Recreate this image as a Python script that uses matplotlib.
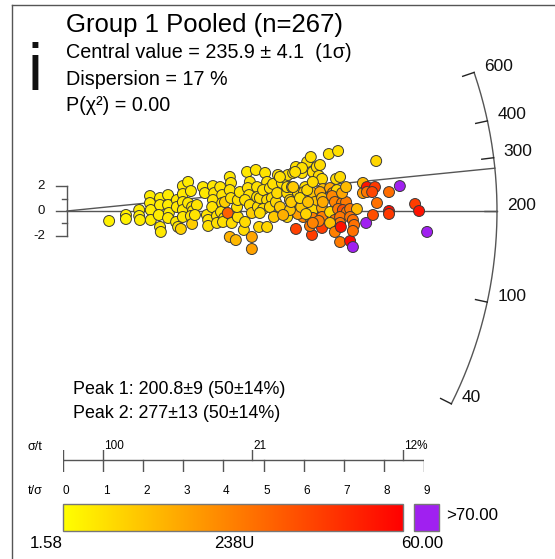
import numpy as np
import matplotlib
matplotlib.use('Agg')
import matplotlib.pyplot as plt
from matplotlib.colors import LinearSegmentedColormap, Normalize
from matplotlib.lines import Line2D
from matplotlib.patches import Rectangle
import matplotlib.colorbar as mcolorbar

plt.rcParams['font.family'] = ['Liberation Sans', 'DejaVu Sans']

# ---- data: radial plot coordinates (x = t/sigma, y = standardised estimate) and 238U
t_sigma = [1.05, 1.47, 1.47, 1.80, 1.80, 1.82, 2.07, 2.07, 2.09, 2.09,
           2.32, 2.32, 2.29, 2.32, 2.34, 2.52, 2.52, 2.54, 2.52, 2.74,
           2.74, 2.72, 2.77, 2.84, 2.89, 2.89, 2.89, 2.89, 2.89, 3.02,
           3.09, 3.02, 3.12, 3.14, 3.09, 3.12, 3.24, 3.19, 3.39, 3.44,
           3.49, 3.52, 3.52, 3.64, 3.67, 3.64, 3.62, 3.74, 3.74, 3.82,
           3.87, 3.87, 3.84, 3.92, 3.89, 3.94, 4.01, 4.06, 4.09, 4.06,
           4.09, 4.11, 4.06, 4.21, 4.26, 4.24, 4.26, 4.31, 4.41, 4.49,
           4.56, 4.51, 4.54, 4.44, 4.56, 4.61, 4.61, 4.61, 4.71, 4.74,
           4.74, 4.76, 4.81, 4.79, 4.94, 4.99, 4.89, 4.99, 4.99, 4.89,
           4.81, 5.06, 5.11, 5.06, 5.16, 5.14, 5.26, 5.21, 5.36, 5.24,
           5.31, 5.44, 5.49, 5.49, 5.56, 5.61, 5.49, 5.51, 5.61, 5.64,
           5.71, 5.76, 5.76, 5.74, 5.64, 5.86, 5.94, 5.91, 5.94, 5.89,
           5.99, 6.08, 6.06, 6.13, 6.23, 6.31, 6.13, 6.18, 6.13, 6.13,
           5.71, 6.11, 6.06, 5.76, 5.56, 5.39, 5.59, 5.84, 5.96, 5.81,
           6.01, 5.86, 5.99, 5.69, 5.31, 6.28, 6.36, 6.13, 6.38, 6.31,
           6.36, 6.36, 6.38, 6.36, 6.36, 6.28, 6.13, 6.53, 6.76, 6.71,
           6.81, 6.56, 6.63, 6.73, 6.61, 6.68, 6.86, 6.96, 6.86, 6.56,
           6.76, 6.88, 6.98, 6.68, 6.81, 6.81, 6.56, 6.68, 6.83, 6.81,
           7.06, 7.13, 6.96, 7.06, 7.23, 7.06, 7.13, 7.16, 7.13, 7.38,
           7.38, 7.48, 7.68, 7.48, 7.61, 7.46, 7.63, 7.73, 7.71, 8.03,
           8.03, 8.03, 8.30, 8.68, 8.78, 8.98, 4.44]
z_std = [-0.80, -0.32, -0.64, 0.08, -0.40, -0.72, 1.20, 0.64, 0.08, -0.72,
         1.04, 0.48, -0.32, -1.28, -1.68, 1.28, 0.48, -0.16, -0.56, 0.88,
         0.32, -0.88, -1.28, -1.44, 2.00, 1.36, 0.72, 0.08, -0.48, 2.33,
         1.60, 0.64, 0.32, 0.00, -0.40, -1.04, 0.48, -0.32, 1.92, 1.44,
         -0.32, -0.72, -1.20, 2.00, 1.44, 0.88, 0.32, -0.40, -0.96, 1.92,
         1.28, 0.64, -0.08, -0.56, -0.88, 0.72, -0.16, 2.73, 2.25, 1.68,
         1.04, -0.96, -2.08, -2.33, -0.48, 0.32, 0.88, 1.52, -1.52, 3.13,
         2.33, 1.84, 1.28, 0.88, 0.48, -0.16, -2.08, -3.05, 3.29, 1.92,
         1.12, 0.32, 1.04, -1.28, 3.05, 2.33, 1.68, 0.88, -1.28, 0.16,
         -0.16, 1.84, 1.04, 0.32, -0.48, 2.17, 2.89, 0.72, 2.25, 1.44,
         0.32, 2.65, -0.48, 1.44, 0.88, 0.48, 1.92, 2.89, 1.92, 3.05,
         3.53, 1.44, 0.64, -0.08, 1.92, 3.05, 1.92, 1.52, 0.88, -0.48,
         3.93, 4.33, -0.48, 3.13, 3.53, 3.69, 1.44, 0.72, 0.08, -0.56,
         -1.44, -1.92, -1.20, -0.24, 0.08, -0.32, 0.72, 0.32, -0.24, 1.04,
         0.72, 3.45, 1.68, 3.13, 2.73, 2.81, 2.57, 2.33, 1.76, 1.52,
         1.04, 0.24, 0.72, -0.48, -1.36, -0.80, -0.96, 4.57, 4.81, 2.57,
         2.73, 1.84, 1.44, 1.68, 1.20, 0.72, 0.64, 0.72, 1.44, -0.08,
         0.16, 0.08, -0.08, -0.72, -0.48, -0.96, -0.96, -1.68, -1.28, -2.49,
         -2.41, -2.89, 1.92, 0.16, 0.16, -0.48, -0.72, -1.12, -1.60, 2.25,
         1.44, 1.92, 1.92, 1.52, 1.52, -0.96, -0.32, 0.64, 4.01, 1.52,
         0.00, -0.24, 2.00, 0.56, 0.00, -1.68, -0.88]
u238 = [5, 5, 5, 6, 6, 6, 6, 6, 6, 6,
        6, 6, 6, 7, 7, 6, 6, 6, 7, 7,
        7, 7, 8, 12, 7, 7, 7, 7, 7, 6,
        7, 7, 8, 8, 8, 13, 8, 8, 7, 7,
        8, 8, 9, 7, 8, 8, 8, 9, 9, 8,
        8, 9, 9, 9, 9, 13, 38, 7, 8, 8,
        9, 10, 19, 18, 9, 9, 9, 8, 10, 7,
        8, 9, 9, 9, 10, 13, 22, 23, 8, 9,
        9, 10, 10, 11, 8, 9, 9, 10, 11, 10,
        10, 9, 10, 11, 14, 9, 9, 11, 9, 10,
        14, 9, 11, 10, 11, 14, 10, 9, 10, 9,
        9, 11, 15, 15, 14, 9, 10, 15, 11, 30,
        9, 9, 22, 10, 10, 10, 15, 16, 11, 30,
        45, 46, 32, 24, 15, 20, 14, 15, 11, 10,
        16, 9, 11, 9, 9, 10, 10, 10, 16, 21,
        17, 22, 21, 31, 46, 31, 30, 9, 9, 10,
        10, 22, 28, 11, 29, 30, 31, 32, 22, 11,
        32, 42, 33, 32, 33, 33, 16, 31, 56, 32,
        57, 85, 17, 33, 17, 33, 34, 34, 34, 18,
        25, 55, 47, 33, 44, 85, 42, 34, 11, 35,
        57, 47, 85, 46, 56, 85, 10]

z0 = 200.8                     # reference value of the horizontal axis
peaks = [200.8, 277.0]
arc_ticks = [40, 100, 200, 300, 400, 600]
arc_range = (40, 600)
sigma_t_pos = [100.0, 21.2, 11.8]
sigma_t_labels = ['100', '21', '12%']
t_sigma_ticks = list(range(10))
u_min, u_max, u_over = 1.58, 60.0, 70.0

# ---- layout (pixels of the 555 x 559 picture)
W, H = 555, 559
px_x, px_y = 40.1, 12.47       # pixels per unit of t/sigma and of z
ox, oy = 67, 211               # origin of the radial plot
aspect = px_x / px_y
r_arc = 430 / px_x
tick_len = 12 / px_x

fig = plt.figure(figsize=(W / 100, H / 100), dpi=100)
ax = fig.add_axes([0, 0, 1, 1])
ax.set_xlim(-ox / px_x, (W - ox) / px_x)
ax.set_ylim(-(H - oy) / px_y, oy / px_y)
ax.axis('off')

grey = '#555555'


def theta(z):
    return np.arctan(np.log(z / z0) / aspect)


def arc_xy(r, th):
    return r * np.cos(th), r * np.sin(th) * aspect


# arc with ticks and labels
th = np.linspace(theta(arc_range[0]), theta(arc_range[1]), 300)
ax.plot(*arc_xy(r_arc, th), color=grey, lw=1)
for z in arc_ticks:
    t = theta(z)
    xo, yo = arc_xy(r_arc, t)
    xi, yi = arc_xy(r_arc - tick_len, t)
    ax.plot([xi, xo], [yi, yo], color='#222222', lw=1)
    ax.annotate(str(z), (xo, yo), xytext=(10, 6), textcoords='offset pixels',
                ha='left', va='center', fontsize=12.5, color='#111111')

# peak lines
for p in peaks:
    xe, ye = arc_xy(r_arc, theta(p))
    ax.plot([0, xe], [0, ye], color=grey, lw=1, zorder=2)

# +-2 scale bar
ax.plot([0, 0], [-2, 2], color=grey, lw=1)
for v in [-2, -1, 0, 1, 2]:
    ln = 11 if v % 2 == 0 else 5
    ax.plot([-ln / px_x, 0], [v, v], color=grey, lw=1)
    if v % 2 == 0:
        ax.annotate(str(v), (0, v), xytext=(-22, 0), textcoords='offset pixels',
                    ha='right', va='center', fontsize=9.5, color='#111111')

# points
cmap = LinearSegmentedColormap.from_list('yr', ['#FFFF00', '#FF0000'])
norm = Normalize(u_min, u_max)
cols = ['#A020F0' if u > u_over else cmap(norm(u)) for u in u238]
ax.scatter(t_sigma, z_std, s=62, c=cols, edgecolors='#3a3a3a',
           linewidths=0.7, zorder=3)

# frame lines
fig.add_artist(Line2D([12 / W, 12 / W], [0, 1 - 5 / H], color=grey, lw=1))
fig.add_artist(Line2D([12 / W, 1], [1 - 5 / H, 1 - 5 / H], color=grey, lw=1))


def ft(x, y, s, **kw):
    fig.text(x / W, 1 - y / H, s, **kw)


ft(27, 90, 'i', fontsize=48, va='baseline', color='#111111')
ft(66, 32, 'Group 1 Pooled (n=267)', fontsize=18.5, va='baseline')
ft(66, 58, 'Central value = 235.9 \u00b1 4.1  (1\u03c3)', fontsize=14.2, va='baseline')
ft(66, 85, 'Dispersion = 17 %', fontsize=14.2, va='baseline')
ft(66, 111, 'P(\u03c7\u00b2) = 0.00', fontsize=14.2, va='baseline')
ft(73, 394, 'Peak 1: 200.8\u00b19 (50\u00b114%)', fontsize=12.9, va='baseline')
ft(73, 418, 'Peak 2: 277\u00b113 (50\u00b114%)', fontsize=12.9, va='baseline')

# precision axis below
axb = fig.add_axes([63 / W, 1 - 472 / H, 361 / W, 22 / H])
axb.set_xlim(0, 9)
axb.set_ylim(0, 22)
axb.axis('off')
axb.plot([0, 9], [12, 12], color=grey, lw=1)
for t in t_sigma_ticks:
    axb.plot([t, t], [0, 12], color=grey, lw=1)
    axb.text(t + 3 / px_x, -18.5, str(t), ha='center', va='center',
             fontsize=8.5, clip_on=False)
axb.plot([0, 0], [12, 22], color=grey, lw=1)
for s, lab in zip(sigma_t_pos, sigma_t_labels):
    xp = 100.0 / s
    axb.plot([xp, xp], [12, 22], color=grey, lw=1)
    axb.text(xp + 1 / px_x, 26, lab, ha='left', va='center', fontsize=8.5,
             clip_on=False)
ft(28, 447, '\u03c3/t', fontsize=9, va='center')
ft(28, 491, 't/\u03c3', fontsize=9, va='center')

# colour bar
axc = fig.add_axes([63 / W, 1 - 531 / H, 340 / W, 27 / H])
cb = mcolorbar.ColorbarBase(axc, cmap=cmap, norm=norm, orientation='horizontal')
cb.set_ticks([])
cb.outline.set_edgecolor('#777777')
cb.outline.set_linewidth(1)
fig.add_artist(Rectangle((414 / W, 1 - 531 / H), 25 / W, 27 / H,
                         transform=fig.transFigure, facecolor='#A020F0',
                         edgecolor='#777777', lw=1))
ft(446, 515, '>%.2f' % u_over, fontsize=12.2, va='center')
ft(63, 544, '%.2f' % u_min, fontsize=12.2, va='center', ha='right')
ft(234, 544, '238U', fontsize=12.2, va='center', ha='center')
ft(401, 544, '%.2f' % u_max, fontsize=12.2, va='center', ha='left')

fig.savefig('out.png', dpi=100)
